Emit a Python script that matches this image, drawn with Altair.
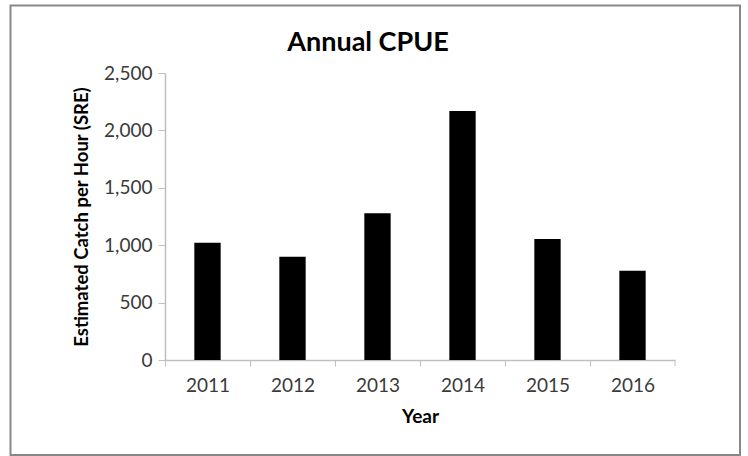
import altair as alt
import pandas as pd

# Annual catch-per-unit-effort values
years = ["2011", "2012", "2013", "2014", "2015", "2016"]
cpue = [1022, 900, 1278, 2169, 1054, 778]

y_ticks = [0, 500, 1000, 1500, 2000, 2500]

FONT = "Lato"
AXIS_GRAY = "#BFBFBF"
LABEL_GRAY = "#3a3a3a"

W, H = 510, 287
STEP = W / len(years)

df = pd.DataFrame({"Year": years, "CPUE": cpue})
one = pd.DataFrame({"k": [0]})

bars = alt.Chart(df).mark_bar(color="black").encode(
    x=alt.X(
        "Year:N",
        sort=years,
        scale=alt.Scale(paddingInner=0.69, paddingOuter=0.345),
        axis=alt.Axis(
            title="Year",
            labelAngle=0,
            labelFont=FONT,
            labelFontSize=19,
            labelColor=LABEL_GRAY,
            labelPadding=10,
            tickOffset=-STEP / 2,
            labelOffset=STEP / 2,
            tickSize=6,
            tickColor=AXIS_GRAY,
            domainColor=AXIS_GRAY,
            domainWidth=1.5,
            titleFont=FONT,
            titleFontSize=19,
            titleFontWeight="bold",
            titleColor="black",
            titleX=W / 2,
            titleY=56,
            titleBaseline="middle",
        ),
    ),
    y=alt.Y(
        "CPUE:Q",
        scale=alt.Scale(domain=[0, 2500], nice=False),
        axis=alt.Axis(
            title="Estimated Catch per Hour (SRE)",
            values=y_ticks,
            format=",d",
            grid=False,
            labelFont=FONT,
            labelFontSize=19,
            labelColor=LABEL_GRAY,
            labelPadding=6,
            tickSize=7,
            tickColor=AXIS_GRAY,
            domainColor=AXIS_GRAY,
            domainWidth=1.5,
            titleFont=FONT,
            titleFontSize=18.5,
            titleFontWeight="bold",
            titleColor="black",
            titleAngle=-90,
            titleX=-84,
            titleY=H / 2,
            titleAlign="center",
            titleBaseline="middle",
        ),
    ),
)

# closing tick at the right end of the category axis
end_tick = alt.Chart(one).mark_rule(color=AXIS_GRAY, strokeWidth=1).encode(
    x=alt.value(W), y=alt.value(H), y2=alt.value(H + 6)
)

# chart heading
heading = alt.Chart(one).mark_text(
    text="Annual CPUE",
    font=FONT,
    fontSize=27,
    fontWeight="bold",
    color="black",
    align="center",
    baseline="middle",
).encode(x=alt.value(203), y=alt.value(-30))

# frame around the whole chart
frame = alt.Chart(one).mark_rect(
    fill=None, stroke="#888888", strokeWidth=2
).encode(
    x=alt.value(-154.5), x2=alt.value(575), y=alt.value(-67.5), y2=alt.value(382)
)

chart = (
    alt.layer(bars, end_tick, heading, frame)
    .properties(
        width=W,
        height=H,
        autosize=alt.AutoSizeParams(type="none"),
        padding={"left": 165, "top": 73, "right": 73, "bottom": 96},
        background="white",
    )
    .configure_view(stroke=None)
)

chart.save("out.html", embed_options={"renderer": "svg", "actions": False})
